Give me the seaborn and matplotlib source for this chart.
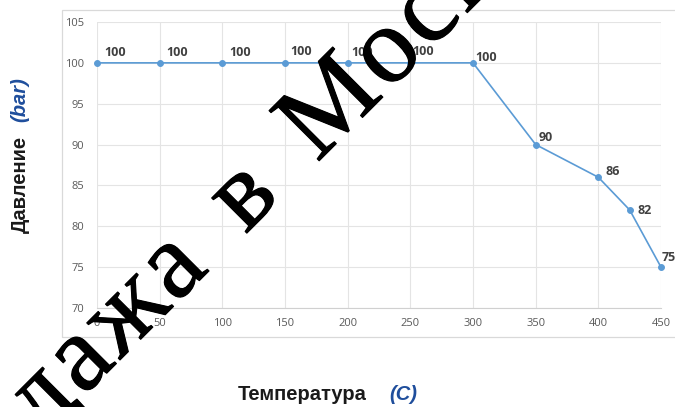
import matplotlib
matplotlib.use("Agg")
import math
import matplotlib.pyplot as plt
import matplotlib.patches as mpatches
import matplotlib.patheffects as pe
from matplotlib.font_manager import findfont, FontProperties
from matplotlib.ft2font import FT2Font
import seaborn as sns
import pandas as pd

# ---- data ----
temperature = [0, 50, 100, 150, 200, 250, 300, 350, 400, 425, 450]
pressure = [100, 100, 100, 100, 100, 100, 100, 90, 86, 82, 75]
x_ticks = [0, 50, 100, 150, 200, 250, 300, 350, 400, 450]
y_ticks = [70, 75, 80, 85, 90, 95, 100, 105]
x_title = "Температура"
x_unit = "(C)"
y_title = "Давление"
y_unit = "(bar)"
watermark = "Продажа в Москве"

# label offsets in pixels (style)
label_offsets_px = [(7, 10.5), (7, 10), (7, 10.5), (5, 11), (4, 10), (2, 11),
                    (2, 5), (3, 7), (7, 6), (8, -1), (1, 10)]

sns.set_style("white")
plt.rcParams["font.family"] = ["DejaVu Sans"]

df = pd.DataFrame({"T": temperature, "P": pressure})

W, H = 675, 407
fig = plt.figure(figsize=(W / 100, H / 100), dpi=100)
ax = fig.add_axes([97 / W, 1 - 308 / H, (661 - 97) / W, (308 - 22) / H])

blue = "#5b9bd5"
sns.lineplot(data=df, x="T", y="P", ax=ax, color=blue, linewidth=1.2,
             marker="o", markersize=4.2, markeredgecolor=blue, markerfacecolor=blue,
             zorder=3, clip_on=False)

ax.set_xlim(0, 450)
ax.set_ylim(70, 105)
ax.set_xticks(x_ticks)
ax.set_yticks(y_ticks)
ax.set_xticklabels([str(v) for v in x_ticks], fontsize=8, color="#595959", family="Open Sans")
ax.set_yticklabels([str(v) for v in y_ticks], fontsize=8, color="#595959", family="Open Sans")
ax.tick_params(axis="x", length=0, pad=7)
ax.tick_params(axis="y", length=0, pad=9)
ax.grid(True, color="#e4e4e4", linewidth=0.8)
for s in ["top", "right", "left"]:
    ax.spines[s].set_visible(False)
ax.spines["bottom"].set_color("#d0d0d0")
ax.spines["bottom"].set_linewidth(0.8)
ax.set_xlabel("")
ax.set_ylabel("")

for t, p, off in zip(temperature, pressure, label_offsets_px):
    ax.annotate(str(p), (t, p), xytext=(off[0] * 0.72, off[1] * 0.72), textcoords="offset points",
                fontsize=9, fontweight="bold", color="#404040",
                family="Open Sans", ha="left", va="center", zorder=4, annotation_clip=False)

# chart border
rect = mpatches.Rectangle((62 / W, 1 - 337 / H), 1, (337 - 10) / H,
                          transform=fig.transFigure, fill=False,
                          edgecolor="#d9d9d9", linewidth=0.9, zorder=0)
fig.patches.append(rect)

# axis titles
fs_title = 14.5
fig.text(238 / W, 1 - 395 / H, x_title, fontsize=fs_title, fontweight="bold",
         color="#1a1a1a", ha="left", va="center", family="Liberation Sans")
fig.text(389 / W, 1 - 395 / H, x_unit, fontsize=fs_title, fontweight="bold", style="italic",
         color="#1f4e9c", ha="left", va="center", family="Liberation Sans")
fig.text(20 / W, 1 - 233 / H, y_title, fontsize=fs_title, fontweight="bold", rotation=90,
         color="#1a1a1a", ha="center", va="bottom", family="Liberation Sans")
fig.text(20 / W, 1 - 77 / H, y_unit, fontsize=fs_title, fontweight="bold", style="italic", rotation=90,
         color="#1f4e9c", ha="center", va="top", family="Liberation Sans")

# watermark: letter-spaced serif text on a 45 degree baseline
wm_fs = 78
tracking = 4.0      # px added after each glyph
space_adv = 46.0    # px advance for a space
ang = math.radians(45)
font_path = findfont(FontProperties(family="Liberation Serif"))
ft = FT2Font(font_path)
ft.set_size(wm_fs, 100)
advances = []
for ch in watermark:
    if ch == " ":
        advances.append(space_adv)
    else:
        g = ft.load_char(ord(ch))
        advances.append(g.linearHoriAdvance / 65536 + tracking)
pos = [0.0]
for a in advances[:-1]:
    pos.append(pos[-1] + a)
anchor_idx = watermark.index("М")
mx, my = 317, H - 163  # display px where "М" starts on the baseline
for ch, s in zip(watermark, pos):
    if ch == " ":
        continue
    d = s - pos[anchor_idx]
    x = mx + d * math.cos(ang)
    y = my + d * math.sin(ang)
    fig.text(x / W, y / H, ch, fontsize=wm_fs, family="Liberation Serif", color="black",
             rotation=45, rotation_mode="anchor", ha="left", va="baseline", zorder=10,
             path_effects=[pe.withStroke(linewidth=0.8, foreground="black")])

fig.savefig("out.png", dpi=100)
